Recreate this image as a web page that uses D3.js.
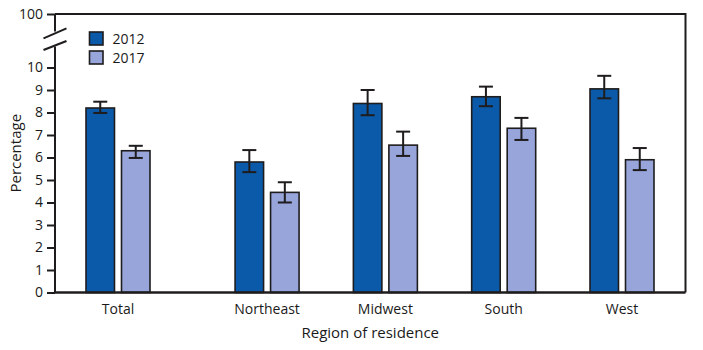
<!DOCTYPE html>
<html>
<head>
<meta charset="utf-8">
<script src="https://cdn.jsdelivr.net/npm/d3@7"></script>
<style>
    body { margin: 0; background: #fff; }
    svg text { font-family: 'Open Sans', 'Noto Sans', sans-serif; fill: #1a1a1a; }
</style>
</head>
<body>
<div id="chart"></div>
<script>
const regions = ['Total', 'Northeast', 'Midwest', 'South', 'West'];
const years = ['2012', '2017'];
const values2012 = [8.2, 5.8, 8.4, 8.7, 9.05];
const values2017 = [6.3, 4.45, 6.55, 7.3, 5.9];
const lower2012 = [7.98, 5.35, 7.88, 8.28, 8.63];
const upper2012 = [8.48, 6.33, 9.0, 9.15, 9.63];
const lower2017 = [5.98, 4.0, 6.07, 6.78, 5.44];
const upper2017 = [6.52, 4.9, 7.15, 7.76, 6.42];
const yTicks = [0, 1, 2, 3, 4, 5, 6, 7, 8, 9, 10, 100];

const width = 703, height = 350;
const plot = { left: 55, right: 685.5, top: 14, bottom: 292.5 };
const colors = { '2012': '#0a5aa9', '2017': '#97a5db' };
const ink = '#1f1c1d';

const svg = d3.select('#chart')
    .append('svg')
    .attr('width', width)
    .attr('height', height);

// broken axis: 0-10 stretched, 10-100 squeezed into the top
const y = d3.scaleLinear()
    .domain([0, 10, 100])
    .range([plot.bottom, 67.5, plot.top]);

// Total sits apart from the four regions
const slot = d3.scaleOrdinal()
    .domain(regions)
    .range([0, 1.26, 2.26, 3.26, 4.26]);
const x = d3.scaleLinear()
    .domain([0, 4.26])
    .range([118, 622]);

const barW = 28.5, gap = 7;
const offsets = { '2012': -(barW + gap) / 2, '2017': (barW + gap) / 2 };

const rows = [];
regions.forEach((r, i) => {
    rows.push({ region: r, year: '2012', value: values2012[i], lo: lower2012[i], hi: upper2012[i] });
    rows.push({ region: r, year: '2017', value: values2017[i], lo: lower2017[i], hi: upper2017[i] });
});
const cx = d => x(slot(d.region)) + offsets[d.year];

// bars
svg.selectAll('.bar')
    .data(rows)
    .enter().append('rect')
    .attr('class', 'bar')
    .attr('x', d => cx(d) - barW / 2)
    .attr('y', d => y(d.value))
    .attr('width', barW)
    .attr('height', d => y(0) - y(d.value))
    .attr('fill', d => colors[d.year])
    .attr('stroke', ink)
    .attr('stroke-width', 1.6);

// error bars
const err = svg.selectAll('.err')
    .data(rows)
    .enter().append('g')
    .attr('class', 'err')
    .attr('stroke', ink)
    .attr('stroke-width', 2);
err.append('line')
    .attr('x1', cx).attr('x2', cx)
    .attr('y1', d => y(d.hi)).attr('y2', d => y(d.lo));
err.append('line')
    .attr('x1', d => cx(d) - 7).attr('x2', d => cx(d) + 7)
    .attr('y1', d => y(d.hi)).attr('y2', d => y(d.hi));
err.append('line')
    .attr('x1', d => cx(d) - 7).attr('x2', d => cx(d) + 7)
    .attr('y1', d => y(d.lo)).attr('y2', d => y(d.lo));

// frame: top and right
svg.append('path')
    .attr('d', `M${plot.left},${plot.top}H${plot.right}V${plot.bottom}`)
    .attr('fill', 'none')
    .attr('stroke', ink)
    .attr('stroke-width', 2);

// bottom axis line
svg.append('line')
    .attr('x1', plot.left).attr('x2', plot.right)
    .attr('y1', plot.bottom).attr('y2', plot.bottom)
    .attr('stroke', ink)
    .attr('stroke-width', 2.5);

// y axis with break
const yAxis = svg.append('g')
    .attr('transform', `translate(${plot.left},0)`)
    .call(d3.axisLeft(y).tickValues(yTicks).tickSize(8).tickPadding(4));
yAxis.select('.domain').remove();
yAxis.selectAll('.tick line').attr('stroke', ink).attr('stroke-width', 2);
yAxis.selectAll('.tick text')
    .style('font-size', '14px')
    .attr('fill', ink);

svg.append('line')
    .attr('x1', plot.left).attr('x2', plot.left)
    .attr('y1', plot.top).attr('y2', 31.5)
    .attr('stroke', ink).attr('stroke-width', 2);
svg.append('line')
    .attr('x1', plot.left).attr('x2', plot.left)
    .attr('y1', 46.5).attr('y2', plot.bottom)
    .attr('stroke', ink).attr('stroke-width', 2);
[[38.3, 28.3], [50, 41]].forEach(([y1, y2]) => {
    svg.append('line')
        .attr('x1', 43.5).attr('x2', 66.5)
        .attr('y1', y1).attr('y2', y2)
        .attr('stroke', ink).attr('stroke-width', 2);
});

// x labels
svg.selectAll('.xlabel')
    .data(regions)
    .enter().append('text')
    .attr('class', 'xlabel')
    .attr('x', d => x(slot(d)))
    .attr('y', 314)
    .attr('text-anchor', 'middle')
    .style('font-size', '14px')
    .text(d => d);

svg.append('text')
    .attr('x', (plot.left + plot.right) / 2)
    .attr('y', 338)
    .attr('text-anchor', 'middle')
    .style('font-size', '15px')
    .text('Region of residence');

svg.append('text')
    .attr('transform', `translate(21, ${(plot.top + plot.bottom) / 2}) rotate(-90)`)
    .attr('text-anchor', 'middle')
    .style('font-size', '15px')
    .text('Percentage');

// legend
const legend = svg.selectAll('.legend')
    .data(years)
    .enter().append('g')
    .attr('class', 'legend')
    .attr('transform', (d, i) => `translate(89.5, ${32 + i * 19})`);
legend.append('rect')
    .attr('width', 13.5)
    .attr('height', 13)
    .attr('fill', d => colors[d])
    .attr('stroke', ink)
    .attr('stroke-width', 1.6);
legend.append('text')
    .attr('x', 23)
    .attr('y', 11.5)
    .style('font-size', '14px')
    .text(d => d);
</script>
</body>
</html>
